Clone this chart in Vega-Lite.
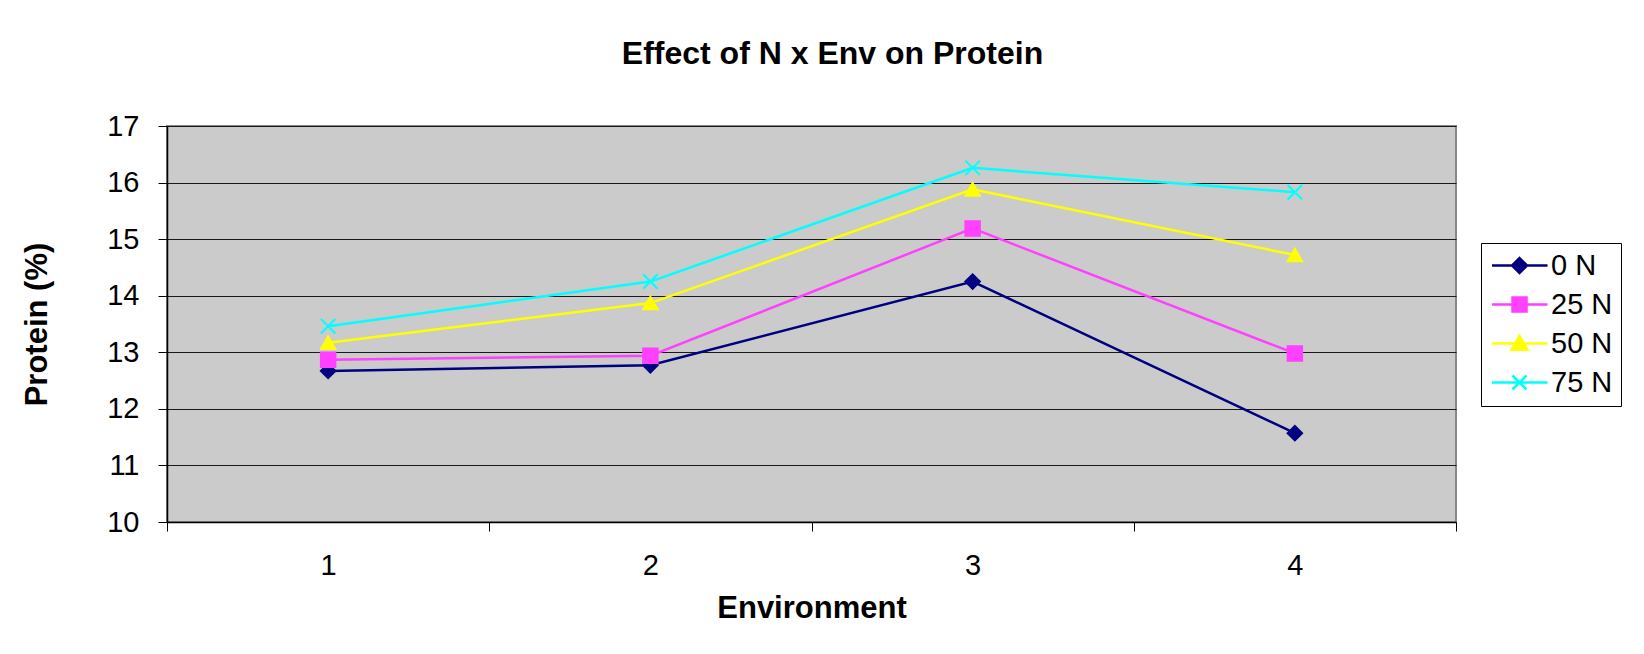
{
  "$schema": "https://vega.github.io/schema/vega-lite/v6.json",
  "width": 1289,
  "height": 396,
  "autosize": {"type": "none"},
  "padding": {"left": 167, "top": 126, "right": 188, "bottom": 132},
  "background": "white",
  "title": {
    "text": "Effect of N x Env on Protein",
    "font": "Liberation Sans",
    "fontSize": 32,
    "fontWeight": "bold",
    "color": "black",
    "anchor": "middle",
    "frame": "group",
    "dx": 21,
    "baseline": "alphabetic",
    "offset": 16
  },
  "config": {
    "font": "Liberation Sans",
    "view": {"fill": "#CBCBCB", "stroke": "#888888", "strokeWidth": 2}
  },
  "data": {
    "values": [
      {"env": 1, "series": "0 N", "protein": 12.67},
      {"env": 2, "series": "0 N", "protein": 12.77},
      {"env": 3, "series": "0 N", "protein": 14.25},
      {"env": 4, "series": "0 N", "protein": 11.57},
      {"env": 1, "series": "25 N", "protein": 12.87},
      {"env": 2, "series": "25 N", "protein": 12.94},
      {"env": 3, "series": "25 N", "protein": 15.19},
      {"env": 4, "series": "25 N", "protein": 12.98},
      {"env": 1, "series": "50 N", "protein": 13.17},
      {"env": 2, "series": "50 N", "protein": 13.87},
      {"env": 3, "series": "50 N", "protein": 15.88},
      {"env": 4, "series": "50 N", "protein": 14.72},
      {"env": 1, "series": "75 N", "protein": 13.46},
      {"env": 2, "series": "75 N", "protein": 14.25},
      {"env": 3, "series": "75 N", "protein": 16.26},
      {"env": 4, "series": "75 N", "protein": 15.83}
    ]
  },
  "encoding": {
    "x": {
      "field": "env",
      "type": "ordinal",
      "scale": {"type": "band", "paddingInner": 0, "paddingOuter": 0},
      "axis": {
        "title": "Environment",
        "titleFontSize": 31,
        "titleFontWeight": "bold",
        "titleColor": "black",
        "titlePadding": 13,
        "labelFontSize": 29,
        "labelColor": "black",
        "labelAngle": 0,
        "labelPadding": 20,
        "tickBand": "extent",
        "tickSize": 9,
        "tickColor": "black",
        "domainColor": "black",
        "domainWidth": 1.5,
        "grid": false
      }
    },
    "y": {
      "field": "protein",
      "type": "quantitative",
      "scale": {"domain": [10, 17], "nice": false, "zero": false},
      "axis": {
        "title": "Protein (%)",
        "titleFontSize": 31,
        "titleFontWeight": "bold",
        "titleColor": "black",
        "titlePadding": 53,
        "values": [10, 11, 12, 13, 14, 15, 16, 17],
        "labelFontSize": 29,
        "labelColor": "black",
        "labelPadding": 19,
        "tickSize": 9,
        "tickColor": "black",
        "domainColor": "black",
        "domainWidth": 1.5,
        "grid": true,
        "gridColor": "#1a1a1a",
        "gridWidth": 1.2,
        "gridOpacity": 1
      }
    },
    "color": {
      "field": "series",
      "type": "nominal",
      "scale": {
        "domain": ["0 N", "25 N", "50 N", "75 N"],
        "range": ["#000080", "#FF40FF", "#FFFF00", "#00FFFF"]
      },
      "legend": {
        "orient": "none",
        "legendX": 1314,
        "legendY": 117,
        "title": null,
        "padding": 8,
        "strokeColor": "black",
        "fillColor": "white",
        "labelFontSize": 29,
        "labelColor": "black",
        "labelAlign": "left",
        "labelOffset": 33,
        "symbolSize": 196,
        "symbolStrokeWidth": 2.5,
        "rowPadding": 9,
        "encode": {
          "symbols": {
            "update": {
              "shape": {"signal": "datum.value === '0 N' ? 'M-1.64,0H6.29M2.29,-1.07L3.36,0L2.29,1.07L1.22,0Z' : datum.value === '25 N' ? 'M-1.64,0H6.29M1.29,-1H3.29V1H1.29Z' : datum.value === '50 N' ? 'M-1.64,0H6.29M2.29,-1.1L3.43,0.9L1.15,0.9Z' : 'M-1.64,0H6.29M1.29,-1L3.29,1M1.29,1L3.29,-1'"},
              "fill": {"scale": "color", "field": "value"},
              "stroke": {"scale": "color", "field": "value"},
              "strokeWidth": {"value": 2.5},
              "opacity": {"value": 1}
            }
          }
        }
      }
    }
  },
  "layer": [
    {"mark": {"type": "line", "strokeWidth": 2.5}},
    {
      "transform": [{"filter": "datum.series === '0 N'"}],
      "mark": {"type": "point", "shape": "diamond", "filled": true, "opacity": 1, "size": 210, "strokeWidth": 2, "stroke": "#000080"}
    },
    {
      "transform": [{"filter": "datum.series === '25 N'"}],
      "mark": {"type": "point", "shape": "square", "filled": true, "opacity": 1, "size": 210, "strokeWidth": 2, "stroke": "#FF40FF"}
    },
    {
      "transform": [{"filter": "datum.series === '50 N'"}],
      "mark": {"type": "point", "shape": "triangle-up", "filled": true, "opacity": 1, "size": 210, "strokeWidth": 2, "stroke": "#FFFF00"}
    },
    {
      "transform": [{"filter": "datum.series === '75 N'"}],
      "mark": {"type": "point", "shape": "M-1,-1L1,1M-1,1L1,-1", "filled": true, "opacity": 1, "size": 210, "strokeWidth": 2, "stroke": "#00FFFF"}
    }
  ]
}
